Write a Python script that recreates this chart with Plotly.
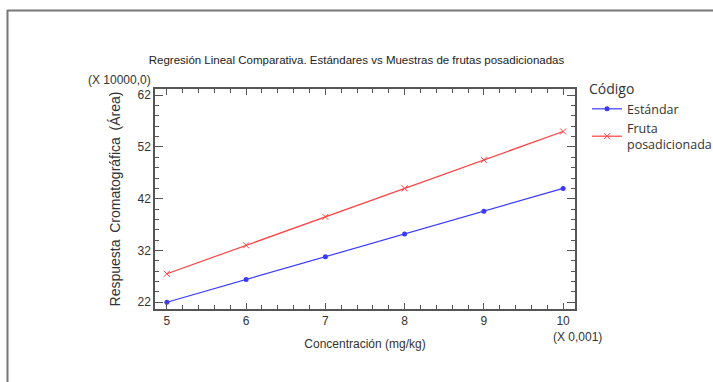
import plotly.graph_objects as go

conc = [5, 6, 7, 8, 9, 10]
estandar = [22.0, 26.4, 30.8, 35.2, 39.6, 44.0]
fruta = [27.5, 33.0, 38.5, 44.0, 49.5, 55.0]
x_ticks = [5, 6, 7, 8, 9, 10]
y_ticks = [22, 32, 42, 52, 62]

W, H = 713, 382
L, R, T, B = 155, 138, 89, 73
pw, ph = W - L - R, H - T - B

def px(x):
    return (x - L) / pw

def py(y):
    return (H - B - y) / ph

narrow = "Liberation Sans, Arial, sans-serif"
fig = go.Figure()
fig.add_trace(go.Scatter(x=conc, y=estandar, mode="lines+markers", name="Estándar",
                         line=dict(color="#3a3aff", width=1.2),
                         marker=dict(symbol="circle", size=5, color="#3a3aff")))
fig.add_trace(go.Scatter(x=conc, y=fruta, mode="lines+markers", name="Fruta<br>posadicionada",
                         line=dict(color="#ff4040", width=1.2),
                         marker=dict(symbol="x-thin", size=6, color="#ff4040",
                                     line=dict(color="#ff4040", width=1))))

axis_common = dict(showgrid=False, zeroline=False, showline=True, linecolor="#555",
                   linewidth=1.5, mirror="ticks", ticks="inside", tickcolor="#555",
                   tickfont=dict(family=narrow, size=12, color="#333"))
fig.update_xaxes(range=[4.85, 10.15], tickvals=x_ticks, ticklen=6,
                 minor=dict(dtick=0.2, ticks="inside", ticklen=4, tickcolor="#555"),
                 title=dict(text="Concentración (mg/kg)", font=dict(family=narrow, size=12, color="#333"),
                            standoff=12),
                 **axis_common)
fig.update_yaxes(range=[20.7, 63.2], tickvals=y_ticks, ticklen=8,
                 minor=dict(dtick=2, ticks="inside", ticklen=4, tickcolor="#555"),
                 title=dict(text="Respuesta\u2009 Cromatográfica\u2009 (Área)",
                            font=dict(family=narrow, size=14, color="#333"), standoff=14),
                 **axis_common)

fig.add_annotation(text="(X 10000,0)", xref="paper", yref="paper", x=px(153), y=py(80),
                   xanchor="right", yanchor="middle", showarrow=False,
                   font=dict(family=narrow, size=12, color="#333"))
fig.add_annotation(text="(X 0,001)", xref="paper", yref="paper", x=px(577), y=py(337),
                   xanchor="center", yanchor="middle", showarrow=False,
                   font=dict(family=narrow, size=12, color="#333"))

fig.add_shape(type="line", xref="paper", yref="paper", x0=px(7), x1=px(713), y0=py(10.5), y1=py(10.5),
              line=dict(color="#777", width=2))
fig.add_shape(type="line", xref="paper", yref="paper", x0=px(7.5), x1=px(7.5), y0=py(10), y1=py(382),
              line=dict(color="#777", width=2))

fig.update_layout(
    width=W, height=H, margin=dict(l=L, r=R, t=T, b=B, autoexpand=False),
    paper_bgcolor="white", plot_bgcolor="white",
    title=dict(text="Regresión Lineal Comparativa. Estándares vs Muestras de frutas posadicionadas",
               x=px(365), xanchor="center", y=1 - 60 / H, yanchor="middle",
               font=dict(family=narrow, size=11.5, color="#222")),
    legend=dict(title=dict(text="Código", font=dict(family="Open Sans, sans-serif", size=14, color="#333")),
                x=px(587), y=py(76), xanchor="left", yanchor="top",
                font=dict(family="Open Sans, sans-serif", size=12.5, color="#333"),
                itemwidth=30, bgcolor="rgba(0,0,0,0)", tracegroupgap=6),
)
fig.write_html("out.html")
